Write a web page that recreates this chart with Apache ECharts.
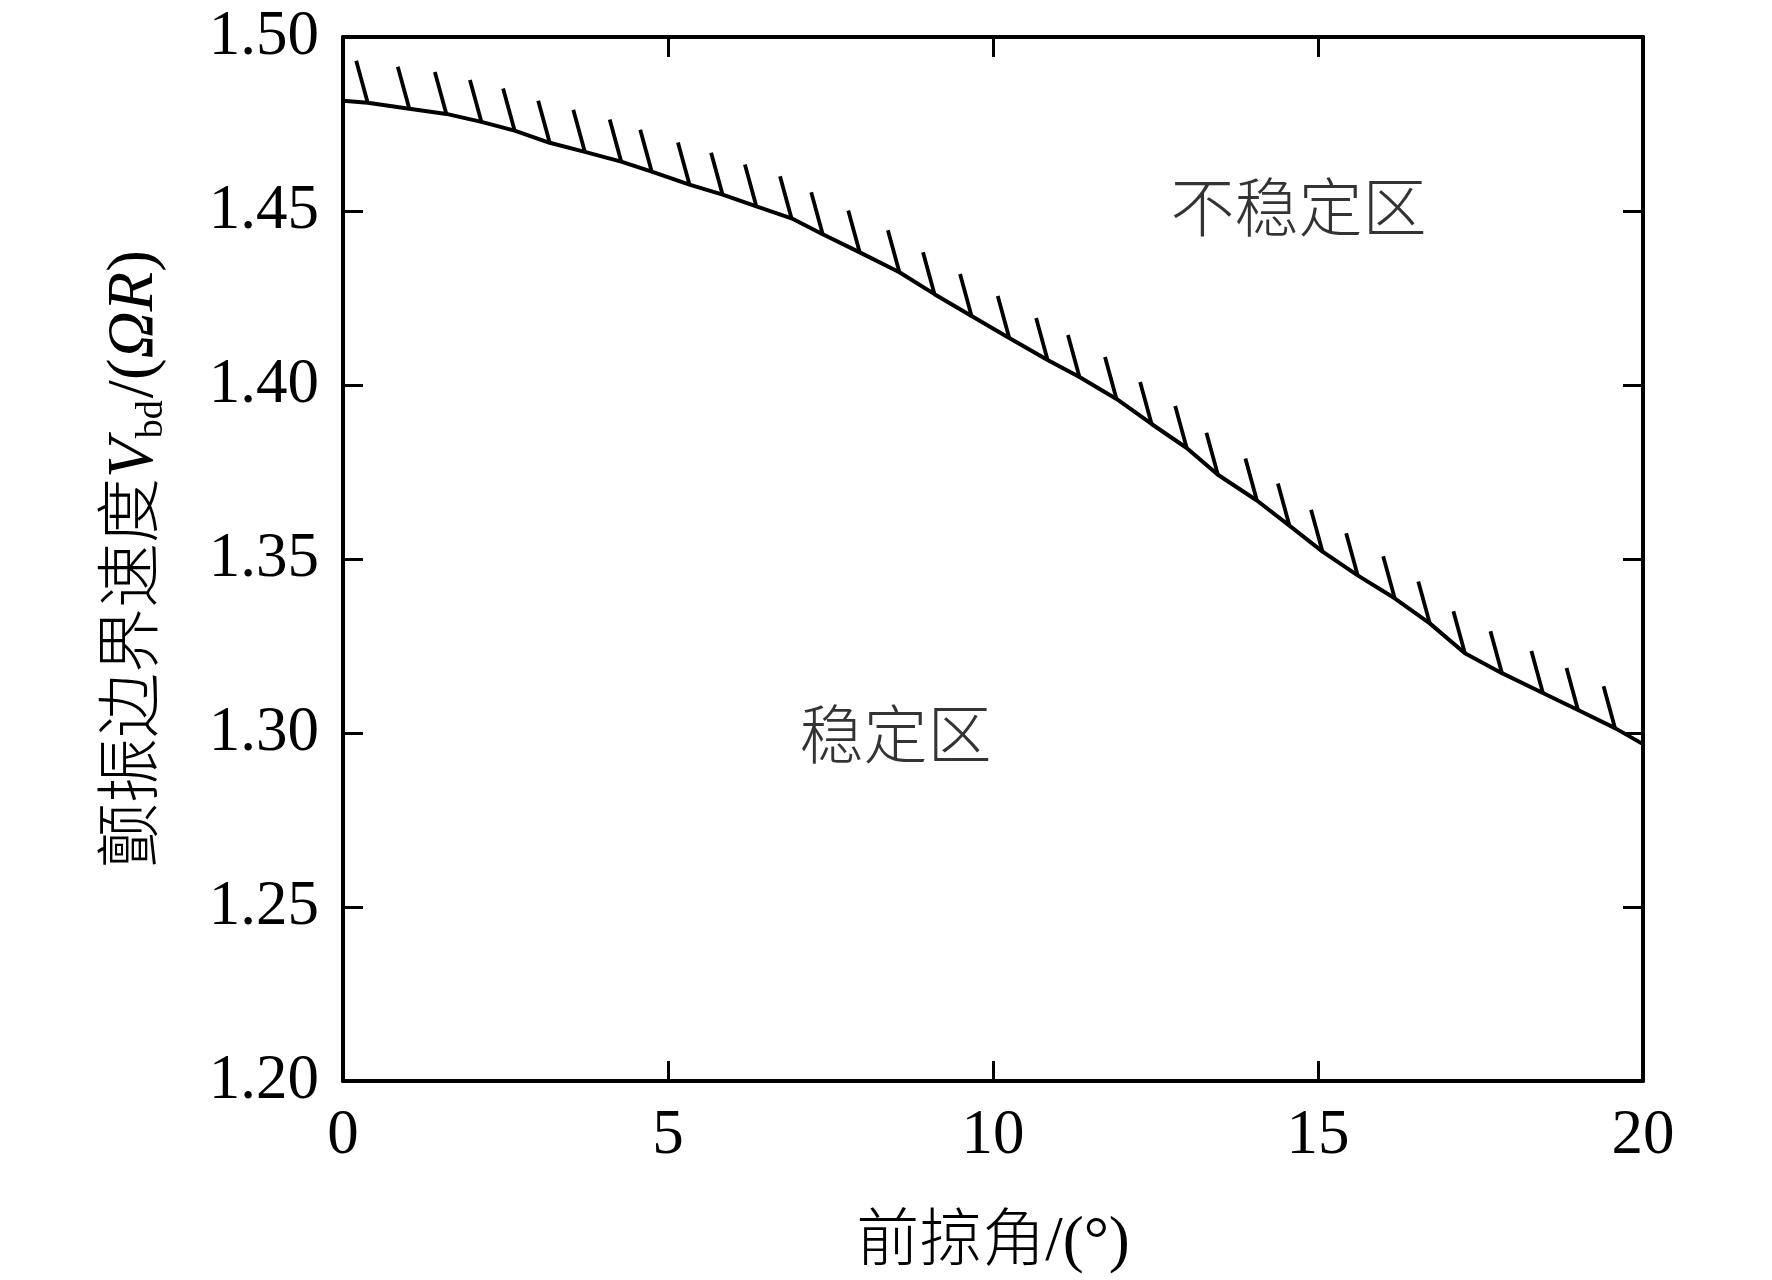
<!DOCTYPE html>
<html>
<head>
<meta charset="utf-8">
<script src="https://cdn.jsdelivr.net/npm/echarts@6/dist/echarts.min.js"></script>
<style>
  html, body { margin: 0; padding: 0; background: #fff; }
  #main { width: 1772px; height: 1280px; }
</style>
</head>
<body>
<div id="main"></div>
<script>
var chart = echarts.init(document.getElementById('main'));

// 前掠角 (deg) and flutter boundary speed
var sweepAngle = [0, 0.38, 1.02, 1.59, 2.13, 2.64, 3.18, 3.72, 4.28, 4.75, 5.33, 5.84, 6.36, 6.90, 7.38,
  7.95, 8.56, 9.10, 9.67, 10.25, 10.84, 11.33, 11.90, 12.44, 12.98, 13.46, 14.06, 14.56, 15.07,
  15.61, 16.18, 16.72, 17.26, 17.83, 18.46, 19.00, 19.57, 20];
var flutterSpeed = [1.4817, 1.4811, 1.4794, 1.4779, 1.4756, 1.4731, 1.4696, 1.4670, 1.4642, 1.4613, 1.4576,
  1.4547, 1.4513, 1.4479, 1.4433, 1.4381, 1.4324, 1.4261, 1.4198, 1.4135, 1.4072, 1.4023, 1.3960,
  1.3888, 1.3819, 1.3742, 1.3668, 1.3596, 1.3521, 1.3453, 1.3387, 1.3315, 1.3229, 1.3172, 1.3115,
  1.3066, 1.3014, 1.2968];

var xTicks = [0, 5, 10, 15, 20];
var yTicks = ['1.20', '1.25', '1.30', '1.35', '1.40', '1.45', '1.50'];

// region labels
var regionNames = ['不稳定区', '稳定区'];
var regionX = [14.70, 8.50];
var regionY = [1.4492, 1.2977];

var serif = '"Liberation Serif", "Times New Roman", "Noto Sans CJK SC", serif';

var curve = sweepAngle.map(function (x, i) { return [x, flutterSpeed[i]]; });
// hatches sit on every inner point of the curve
var hatchPts = curve.slice(1, curve.length - 1);
var regions = regionNames.map(function (n, i) { return { name: n, value: [regionX[i], regionY[i]] }; });

var axisLine = { show: true, onZero: false, lineStyle: { color: '#000', width: 4 } };
var axisTick = { show: true, inside: true, length: 20, lineStyle: { color: '#000', width: 3 } };

function baseX(pos, showLabel) {
  return {
    type: 'value', position: pos, min: 0, max: 20, interval: 5,
    axisLine: axisLine, axisTick: axisTick, splitLine: { show: false },
    axisLabel: {
      show: showLabel, margin: 24, color: '#000', fontSize: 63, fontFamily: serif,
      formatter: function (v) { return xTicks.indexOf(v) >= 0 ? String(v) : ''; }
    }
  };
}
function baseY(pos, showLabel) {
  return {
    type: 'value', position: pos, min: 1.2, max: 1.5, interval: 0.05,
    axisLine: axisLine, axisTick: axisTick, splitLine: { show: false },
    axisLabel: {
      show: showLabel, margin: 24, color: '#000', fontSize: 63, fontFamily: serif,
      formatter: function (v) { var s = v.toFixed(2); return yTicks.indexOf(s) >= 0 ? s : ''; }
    }
  };
}

var xMain = baseX('bottom', true);
xMain.name = '前掠角/(°)';
xMain.nameLocation = 'middle';
xMain.nameGap = 131;
xMain.nameTextStyle = { color: '#000', fontSize: 63, fontWeight: 300, fontFamily: serif };

var yMain = baseY('left', true);
yMain.name = '颤振边界速度{i|V}{sub|bd}/({i|ΩR})';
yMain.nameLocation = 'middle';
yMain.nameRotate = 90;
yMain.nameGap = 172;
yMain.nameTextStyle = {
  color: '#000', fontSize: 65, fontWeight: 300, fontFamily: serif, lineHeight: 72,
  rich: {
    i: { fontSize: 65, fontStyle: 'italic', fontWeight: 'normal', fontFamily: '"Liberation Serif", serif', color: '#000' },
    sub: { fontSize: 38, fontWeight: 'normal', fontFamily: '"Liberation Serif", serif', color: '#000', verticalAlign: 'bottom', lineHeight: 38, padding: [0, 2, 0, 0] }
  }
};

chart.setOption({
  backgroundColor: '#fff',
  animation: false,
  grid: { left: 343, right: 129, top: 37, bottom: 196, containLabel: false },
  xAxis: [xMain, baseX('top', false)],
  yAxis: [yMain, baseY('right', false)],
  series: [
    {
      type: 'line',
      data: curve,
      showSymbol: false,
      lineStyle: { color: '#000', width: 4 },
      z: 3
    },
    {
      type: 'custom',
      data: hatchPts,
      renderItem: function (params, api) {
        var c = api.coord([api.value(0), api.value(1)]);
        return {
          type: 'line',
          shape: { x1: c[0], y1: c[1], x2: c[0] - 11.5, y2: c[1] - 42 },
          style: { stroke: '#000', lineWidth: 3.8 }
        };
      },
      z: 3
    },
    {
      type: 'scatter',
      data: regions,
      symbolSize: 0,
      label: {
        show: true, position: 'inside', formatter: '{b}',
        color: '#000', fontSize: 64, fontWeight: 300, fontFamily: serif
      }
    }
  ]
});
</script>
</body>
</html>
